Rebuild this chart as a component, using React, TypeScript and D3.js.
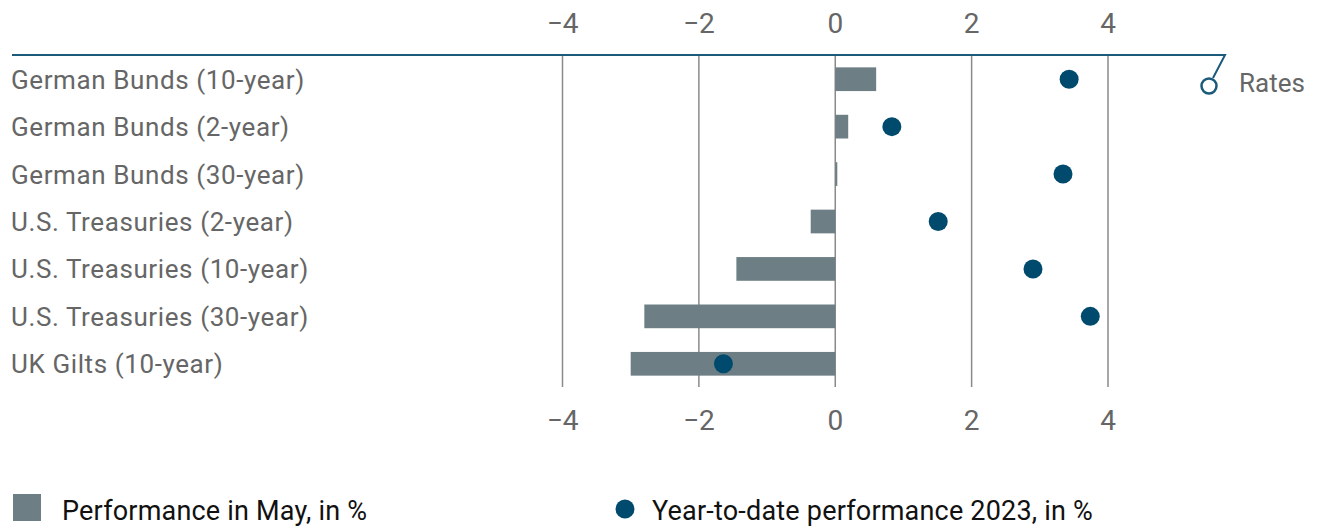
import { useEffect, useRef } from "react";
import * as d3 from "d3";

const categories = [
  "German Bunds (10-year)",
  "German Bunds (2-year)",
  "German Bunds (30-year)",
  "U.S. Treasuries (2-year)",
  "U.S. Treasuries (10-year)",
  "U.S. Treasuries (30-year)",
  "UK Gilts (10-year)",
];
const mayPerf = [0.6, 0.19, 0.03, -0.36, -1.45, -2.8, -3.0];
const ytdPerf = [3.43, 0.83, 3.34, 1.51, 2.9, 3.74, -1.64];
const ticks = [-4, -2, 0, 2, 4];

const W = 1320;
const H = 528;
const BAR = "#6d7f84";
const DOT = "#004a6e";
const AXIS = "#1b5a7a";
const FONT = "Roboto, 'Noto Sans', sans-serif";

export default function App() {
  const svgRef = useRef<SVGSVGElement>(null);

  useEffect(() => {
    if (!svgRef.current) return;
    const svg = d3.select(svgRef.current);
    svg.selectAll("*").remove();

    const x = d3.scaleLinear().domain([-4, 4]).range([562.5, 1108]);
    const y = d3.scaleBand<string>().domain(categories).range([55.5, 387.5]).paddingInner(0.5).paddingOuter(0.25);
    const yTop = 55;
    const yBottom = 387;

    // grid
    svg.append("g")
      .selectAll("line")
      .data(ticks)
      .join("line")
      .attr("x1", d => x(d))
      .attr("x2", d => x(d))
      .attr("y1", yTop)
      .attr("y2", yBottom)
      .attr("stroke", "#8a8a8a")
      .attr("stroke-width", 1.5);

    // tick labels top and bottom
    const fmt = (d: number) => (d < 0 ? "\u2212" + Math.abs(d) : String(d));
    [33, 430].forEach(ty => {
      svg.append("g")
        .selectAll("text")
        .data(ticks)
        .join("text")
        .attr("x", d => x(d))
        .attr("y", ty)
        .attr("text-anchor", "middle")
        .style("font-family", FONT)
        .style("font-size", "28px")
        .style("fill", "#666")
        .text(fmt);
    });

    // bars
    svg.append("g")
      .selectAll("rect")
      .data(mayPerf)
      .join("rect")
      .attr("x", d => x(Math.min(0, d)))
      .attr("width", d => Math.abs(x(d) - x(0)))
      .attr("y", (_, i) => y(categories[i])!)
      .attr("height", y.bandwidth())
      .attr("fill", BAR);

    // dots
    svg.append("g")
      .selectAll("circle")
      .data(ytdPerf)
      .join("circle")
      .attr("cx", d => x(d))
      .attr("cy", (_, i) => y(categories[i])! + y.bandwidth() / 2)
      .attr("r", 9.5)
      .attr("fill", DOT);

    // category labels
    svg.append("g")
      .selectAll("text")
      .data(categories)
      .join("text")
      .attr("x", 11)
      .attr("y", d => y(d)! + y.bandwidth() / 2 + 9.5)
      .style("font-family", FONT)
      .style("font-size", "26px")
      .style("letter-spacing", "0.6px")
      .style("fill", "#666")
      .text(d => d);

    // top axis line with hook
    svg.append("path")
      .attr("d", "M12,55 H1225 L1213,78")
      .attr("fill", "none")
      .attr("stroke", AXIS)
      .attr("stroke-width", 2);
    svg.append("circle")
      .attr("cx", 1209)
      .attr("cy", 86)
      .attr("r", 7.5)
      .attr("fill", "white")
      .attr("stroke", AXIS)
      .attr("stroke-width", 2.5);
    svg.append("text")
      .attr("x", 1239)
      .attr("y", 92)
      .style("font-family", FONT)
      .style("font-size", "26px")
      .style("fill", "#666")
      .text("Rates");

    // legend
    svg.append("rect")
      .attr("x", 13).attr("y", 494).attr("width", 28).attr("height", 27)
      .attr("fill", BAR);
    svg.append("text")
      .attr("x", 62).attr("y", 520)
      .style("font-family", FONT)
      .style("font-size", "27px")
      .style("letter-spacing", "0.2px")
      .style("fill", "#111")
      .text("Performance in May, in %");
    svg.append("circle")
      .attr("cx", 625).attr("cy", 509).attr("r", 9.5)
      .attr("fill", DOT);
    svg.append("text")
      .attr("x", 652).attr("y", 520)
      .style("font-family", FONT)
      .style("font-size", "27px")
      .style("letter-spacing", "0.2px")
      .style("fill", "#111")
      .text("Year-to-date performance 2023, in %");
  }, []);

  return (
    <svg
      ref={svgRef}
      width={W}
      height={H}
      viewBox={`0 0 ${W} ${H}`}
      style={{ display: "block", position: "absolute", left: 0, top: 0 }}
    />
  );
}
